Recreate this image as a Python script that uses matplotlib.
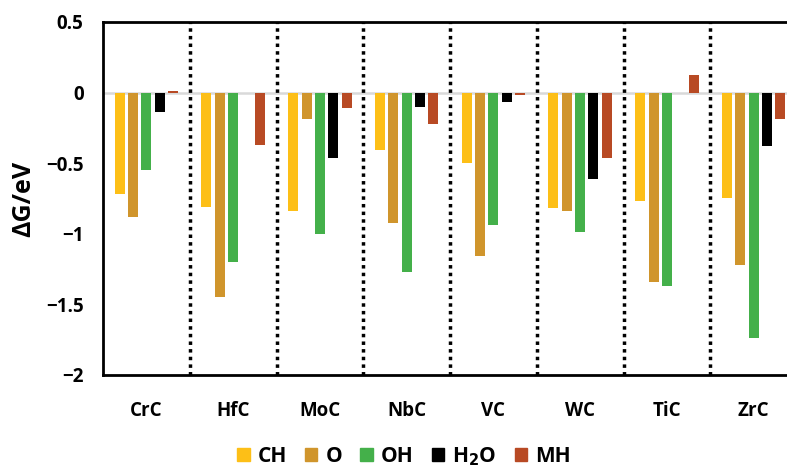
import matplotlib
matplotlib.use("Agg")
import matplotlib.pyplot as plt
import numpy as np
from matplotlib.patches import Patch

plt.rcParams['font.family'] = ['Open Sans', 'DejaVu Sans']
plt.rcParams['font.weight'] = 'bold'

categories = ["CrC", "HfC", "MoC", "NbC", "VC", "WC", "TiC", "ZrC"]
series_names = ["CH", "O", "OH", "H$_2$O", "MH"]
CH  = [-0.72, -0.81, -0.84, -0.41, -0.50, -0.82, -0.77, -0.75]
O   = [-0.88, -1.45, -0.19, -0.92, -1.16, -0.84, -1.34, -1.22]
OH  = [-0.55, -1.20, -1.00, -1.27, -0.94, -0.99, -1.37, -1.74]
H2O = [-0.14, 0.0, -0.46, -0.10, -0.07, -0.61, 0.0, -0.38]
MH  = [0.01, -0.37, -0.11, -0.22, -0.02, -0.46, 0.125, -0.19]
series = [CH, O, OH, H2O, MH]
colors = ["#FDBF17", "#D0952C", "#44B04A", "#000000", "#B84A24"]
yticks = [0.5, 0, -0.5, -1, -1.5, -2]
yticklabels = ["0.5", "0", "\u22120.5", "\u22121", "\u22121.5", "\u22122"]

fig = plt.figure(figsize=(7.87, 4.70), dpi=100)
W, H = 787, 470
ax = fig.add_axes([103/W, (H-375)/H, (797-103)/W, (375-22)/H])

x = np.arange(len(categories)) + 0.5
spacing = 0.154
width = 0.115
ax.axhline(0, color="#D9D9D9", lw=1.8, zorder=1)
for i, (vals, c) in enumerate(zip(series, colors)):
    ax.bar(x + (i - 2) * spacing, vals, width=width, color=c, lw=0, zorder=2)

for k in range(1, len(categories)):
    ax.axvline(k, color="black", lw=2.5, ls=(0, (1, 1.2)), zorder=3)

ax.set_xlim(0, len(categories))
ax.set_ylim(-2, 0.5)
ax.set_yticks(yticks)
ax.set_yticklabels(yticklabels, fontsize=13.5, fontweight='bold')
ax.set_xticks(x)
ax.set_xticklabels(categories, fontsize=13.5, fontweight='bold')
ax.tick_params(axis='both', length=0)
ax.tick_params(axis='x', pad=19)
ax.tick_params(axis='y', pad=14)
for s in ['left', 'bottom', 'top']:
    ax.spines[s].set_linewidth(2)
ax.spines['right'].set_visible(False)
ax.set_ylabel("\u0394G/eV", fontsize=18, fontweight='bold', labelpad=7)

handles = [Patch(facecolor=c, edgecolor=c) for c in colors]
fig.legend(handles, series_names, loc='lower center', ncol=5, frameon=False,
           bbox_to_anchor=(404/W, -0.035),
           handlelength=0.6, handleheight=0.6, handletextpad=0.4,
           columnspacing=0.85, prop={'weight': 'bold', 'size': 15})

fig.savefig("out.png", dpi=100)
